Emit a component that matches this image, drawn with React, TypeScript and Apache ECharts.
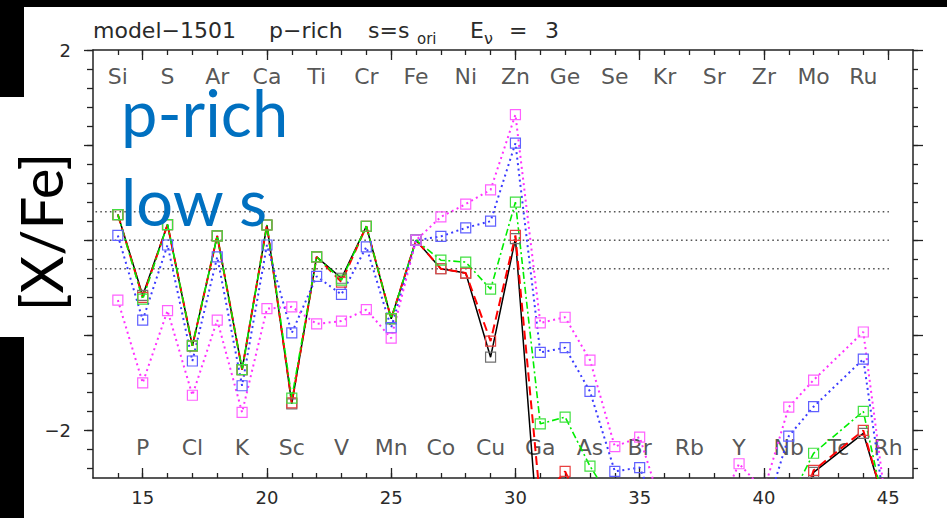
import React, { useEffect, useRef } from "react";
import * as echarts from "echarts";

// Atomic numbers of the plotted elements (Tc has no value and is skipped)
const atomicNumbers = [14, 15, 16, 17, 18, 19, 20, 21, 22, 23, 24, 25, 26, 27, 28, 29, 30, 31, 32, 33, 34, 35, 36, 37, 38, 39, 40, 41, 42, 44, 45];

// [X/Fe] for each run
const runBlack = [0.27, -0.58, 0.165, -1.11, 0.045, -1.36, 0.16, -1.72, -0.175, -0.4, 0.147, -0.825, 0, -0.3, -0.345, -1.23, 0.017, -3.4, -3.6, -3.7, -3.8, -3.9, -4, -4, -4, -4, -3.6, -3.2, -2.44, -2.03, -2.9];
const runRed = [0.27, -0.6, 0.165, -1.11, 0.045, -1.36, 0.16, -1.71, -0.175, -0.44, 0.147, -0.825, 0, -0.3, -0.345, -1.06, 0.05, -2.75, -2.43, -3.0, -3.5, -3.8, -4, -4, -4, -4, -3.6, -3.2, -2.42, -2.0, -2.9];
const runGreen = [0.27, -0.62, 0.165, -1.11, 0.045, -1.36, 0.16, -1.66, -0.175, -0.42, 0.147, -0.825, 0, -0.21, -0.23, -0.515, 0.4, -1.93, -1.86, -2.375, -2.79, -3.2, -3.6, -4, -4, -4, -3.4, -2.75, -2.24, -1.8, -3.0];
const runBlue = [0.05, -0.84, -0.05, -1.27, -0.175, -1.53, -0.05, -0.975, -0.38, -0.57, -0.07, -0.92, 0, 0.04, 0.13, 0.2, 1.02, -1.18, -1.13, -1.59, -2.43, -2.39, -3.04, -3.6, -3.6, -3.4, -2.91, -2.06, -1.75, -1.25, -3.05];
const runMagenta = [-0.63, -1.5, -0.74, -1.63, -0.84, -1.81, -0.72, -0.7, -0.88, -0.85, -0.73, -1.03, 0, 0.245, 0.38, 0.53, 1.32, -0.87, -0.81, -1.26, -2.17, -2.07, -2.9, -3.4, -2.93, -2.35, -2.63, -1.755, -1.47, -0.965, -2.96];

// Element names along the top and bottom of the frame
const topElements = ["Si", "S", "Ar", "Ca", "Ti", "Cr", "Fe", "Ni", "Zn", "Ge", "Se", "Kr", "Sr", "Zr", "Mo", "Ru"];
const topElementZ = [14, 16, 18, 20, 22, 24, 26, 28, 30, 32, 34, 36, 38, 40, 42, 44];
const bottomElements = ["P", "Cl", "K", "Sc", "V", "Mn", "Co", "Cu", "Ga", "As", "Br", "Rb", "Y", "Nb", "Tc", "Rh"];
const bottomElementZ = [15, 17, 19, 21, 23, 25, 27, 29, 31, 33, 35, 37, 39, 41, 43, 45];
const topRowLevel = 1.726;
const bottomRowLevel = -2.18;

// Guide levels (solar and +-0.3 dex)
const guideLevels = [0.3, 0, -0.3];
const guideStartZ = 13.1;
const guideEndZ = 45.03;

// Axis ticks
const xMajorTicks = [15, 20, 25, 30, 35, 40, 45];
const xMinorTicks = [14, 15, 16, 17, 18, 19, 20, 21, 22, 23, 24, 25, 26, 27, 28, 29, 30, 31, 32, 33, 34, 35, 36, 37, 38, 39, 40, 41, 42, 43, 44, 45];
const yMajorTicks = [-2, -1, 0, 1, 2];
const yMinorTicks = [-2.4, -2.2, -2, -1.8, -1.6, -1.4, -1.2, -1, -0.8, -0.6, -0.4, -0.2, 0, 0.2, 0.4, 0.6, 0.8, 1, 1.2, 1.4, 1.6, 1.8, 2];
const yLabelTicks = [2, -2];

const HERSHEY = "'DejaVu Sans', sans-serif";
const OFFICE = "Lato, 'Open Sans', sans-serif";
const INK = "#2a2a2a";

const fmtNum = (v: number) => (v < 0 ? "\u2212" + Math.abs(v) : String(v));

function runSeries(values: number[], line: string, mark: string, width: number, dash: any) {
  return {
    type: "line",
    xAxisIndex: 0,
    yAxisIndex: 0,
    data: atomicNumbers.map((z, i) => [z, values[i]]),
    symbol: "rect",
    symbolSize: 10,
    clip: true,
    silent: true,
    lineStyle: { color: line, width, type: dash },
    itemStyle: { color: "rgba(0,0,0,0)", borderColor: mark, borderWidth: 1.2 },
  };
}

function elementRow(names: string[], zs: number[], level: number) {
  return {
    type: "scatter",
    xAxisIndex: 0,
    yAxisIndex: 0,
    silent: true,
    symbolSize: 1,
    itemStyle: { color: "rgba(0,0,0,0)" },
    data: names.map((n, i) => [zs[i], level, n]),
    label: {
      show: true,
      position: "inside",
      formatter: (p: any) => p.value[2],
      fontFamily: HERSHEY,
      fontSize: 22,
      color: INK,
    },
    z: 1,
  };
}

function xAxisDef(position: string, ticks: number[], len: number, withLine: boolean, withLabels: boolean) {
  return {
    type: "value",
    min: 13,
    max: 46,
    position,
    axisLine: { show: withLine, onZero: false, lineStyle: { color: "#222", width: 1.5 } },
    axisTick: { show: true, inside: true, length: len, customValues: ticks, lineStyle: { color: "#222", width: 1.3 } },
    axisLabel: withLabels
      ? { show: true, customValues: xMajorTicks, margin: 10, fontFamily: HERSHEY, fontSize: 18, color: INK, formatter: fmtNum }
      : { show: false },
    splitLine: { show: false },
  };
}

function yAxisDef(position: string, ticks: number[], len: number, withLine: boolean, withLabels: boolean) {
  return {
    type: "value",
    min: -2.5,
    max: 2,
    position,
    axisLine: { show: withLine, onZero: false, lineStyle: { color: "#222", width: 1.5 } },
    axisTick: { show: true, inside: false, length: len, customValues: ticks, lineStyle: { color: "#222", width: 1.3 } },
    axisLabel: withLabels
      ? { show: true, customValues: yLabelTicks, margin: 22, fontFamily: HERSHEY, fontSize: 18, color: INK, formatter: fmtNum }
      : { show: false },
    splitLine: { show: false },
  };
}

export default function App() {
  const ref = useRef<HTMLDivElement>(null);

  useEffect(() => {
    if (!ref.current) return;
    const chart = echarts.init(ref.current, undefined, { renderer: "svg" });

    const guideSeries = guideLevels.map((lvl) => ({
      type: "line",
      xAxisIndex: 0,
      yAxisIndex: 0,
      silent: true,
      symbol: "none",
      data: [
        [guideStartZ, lvl],
        [guideEndZ, lvl],
      ],
      lineStyle: { color: "#555", width: 1.6, type: [1.6, 3.2] },
      z: 1,
    }));

    chart.setOption({
      animation: false,
      backgroundColor: "#ffffff",
      grid: { left: 93, right: 34, top: 50, bottom: 40, containLabel: false },
      xAxis: [
        xAxisDef("bottom", xMajorTicks, 10, true, true),
        xAxisDef("bottom", xMinorTicks, 5, false, false),
        xAxisDef("top", xMajorTicks, 10, true, false),
        xAxisDef("top", xMinorTicks, 5, false, false),
      ],
      yAxis: [
        yAxisDef("left", yMajorTicks, 9, true, true),
        yAxisDef("left", yMinorTicks, 6, false, false),
        yAxisDef("right", yMajorTicks, 10, true, false),
        yAxisDef("right", yMinorTicks, 5, false, false),
      ],
      series: [
        ...guideSeries,
        elementRow(topElements, topElementZ, topRowLevel),
        elementRow(bottomElements, bottomElementZ, bottomRowLevel),
        runSeries(runBlack, "#000000", "#707070", 1.5, "solid"),
        runSeries(runRed, "#ff0000", "#e84040", 2, [9, 5]),
        runSeries(runGreen, "#00ee00", "#40e040", 1.6, [7, 3, 2, 3]),
        runSeries(runBlue, "#3a3aff", "#6060ff", 2, [2, 3.5]),
        runSeries(runMagenta, "#ff30ff", "#ff60ff", 2, [2, 3.5]),
      ],
      graphic: [
        // masking bars along the top and left edges
        { type: "rect", left: 0, top: 0, shape: { width: 947, height: 7 }, style: { fill: "#000" }, z: 100 },
        { type: "rect", left: 0, top: 0, shape: { width: 24, height: 97 }, style: { fill: "#000" }, z: 100 },
        { type: "rect", left: 0, top: 337, shape: { width: 24, height: 181 }, style: { fill: "#000" }, z: 100 },
        // run title
        { type: "text", x: 93, y: 30, style: { text: "model\u22121501", font: `22px ${HERSHEY}`, fill: INK, verticalAlign: "middle" }, z: 50 },
        { type: "text", x: 269, y: 30, style: { text: "p\u2212rich", font: `22px ${HERSHEY}`, fill: INK, verticalAlign: "middle" }, z: 50 },
        { type: "text", x: 368, y: 30, style: { text: "s=s", font: `22px ${HERSHEY}`, fill: INK, verticalAlign: "middle" }, z: 50 },
        { type: "text", x: 417, y: 39, style: { text: "ori", font: `15px ${HERSHEY}`, fill: INK, verticalAlign: "middle" }, z: 50 },
        { type: "text", x: 470, y: 30, style: { text: "E", font: `22px ${HERSHEY}`, fill: INK, verticalAlign: "middle" }, z: 50 },
        { type: "text", x: 484, y: 38, style: { text: "\u03bd", font: `16px ${HERSHEY}`, fill: INK, verticalAlign: "middle" }, z: 50 },
        { type: "text", x: 509, y: 30, style: { text: "=", font: `22px ${HERSHEY}`, fill: INK, verticalAlign: "middle" }, z: 50 },
        { type: "text", x: 545, y: 30, style: { text: "3", font: `22px ${HERSHEY}`, fill: INK, verticalAlign: "middle" }, z: 50 },
        // y-axis title
        {
          type: "text",
          x: 40,
          y: 232,
          rotation: Math.PI / 2,
          style: { text: "[X/Fe]", font: `58px ${OFFICE}`, fill: "#000", align: "center", verticalAlign: "middle" },
          z: 60,
        },
        // case annotation
        { type: "text", x: 121, y: 112, style: { text: "p-rich", font: `65px ${OFFICE}`, fill: "#0070c0", verticalAlign: "middle" }, z: 60 },
        { type: "text", x: 121, y: 201, style: { text: "low s", font: `65px ${OFFICE}`, fill: "#0070c0", verticalAlign: "middle" }, z: 60 },
      ],
    });

    return () => chart.dispose();
  }, []);

  return (
    <div
      ref={ref}
      style={{ position: "absolute", left: 0, top: 0, width: 947, height: 518, background: "#fff" }}
    />
  );
}
